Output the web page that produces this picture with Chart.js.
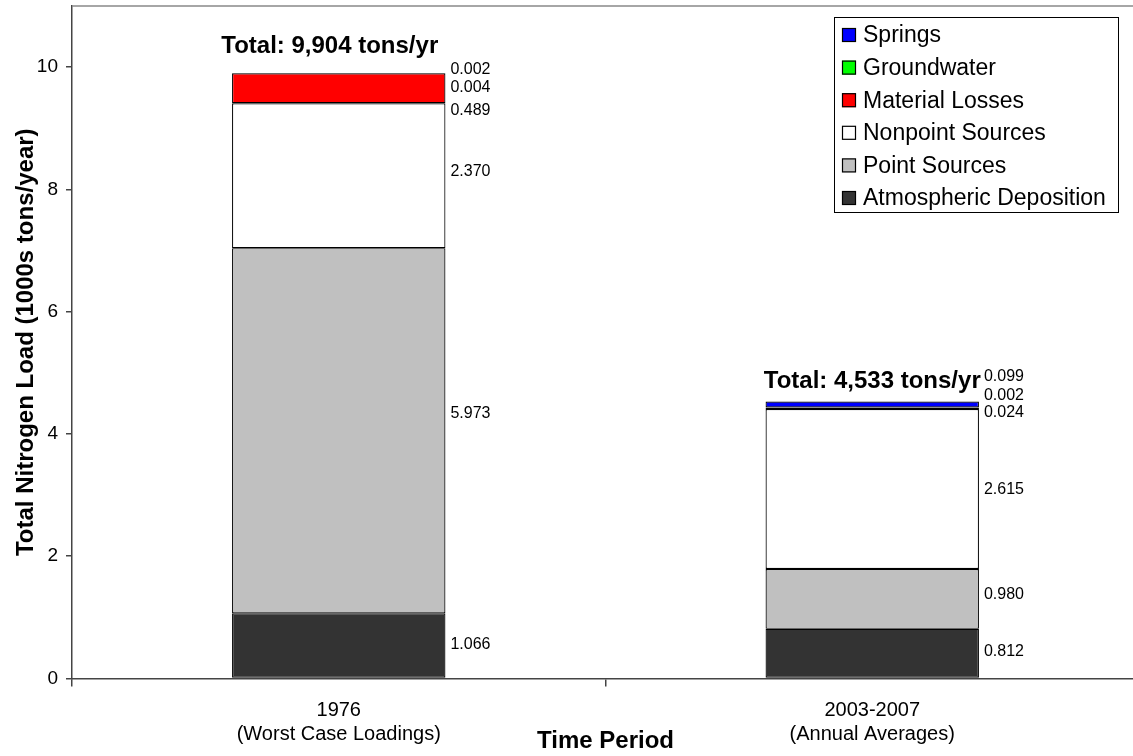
<!DOCTYPE html>
<html>
<head>
<meta charset="utf-8">
<title>Total Nitrogen Load</title>
<script src="https://cdn.jsdelivr.net/npm/chart.js@4.4.1/dist/chart.umd.min.js"></script>
<style>
  html, body { margin: 0; padding: 0; background: #fff; overflow: hidden; }
  /* plot runs a few px past the right edge of the window */
  #wrap { width: 1139px; height: 756px; position: relative; }
</style>
</head>
<body>
<div id="wrap"><canvas id="chart-nitrogen"></canvas></div>
<script>
/* ── Data (1000s tons/year) ─────────────────────────────────── */
const periods        = [['1976', '(Worst Case Loadings)'], ['2003-2007', '(Annual Averages)']];
const atmospheric    = [1.066, 0.812];
const pointSources   = [5.973, 0.980];
const nonpoint       = [2.370, 2.615];
const materialLosses = [0.489, 0.024];
const groundwater    = [0.004, 0.002];
const springs        = [0.002, 0.099];
const totalTons      = [9904, 4533];

const FONT = "'Liberation Sans', Arial, Helvetica, sans-serif";

// label nudges (px) per bar, bottom segment first – keeps the small ones apart
const labelNudge = [
  [-1, -17, -4, 22, 14, -3],
  [-2,  -4,  1,  4, -12, -28],
];
const totalLift  = [27, 20];
const totalShift = [-9, 0];

/* ── Plugins ────────────────────────────────────────────────── */
const topBorder = {
  id: 'topBorder',
  afterDraw(chart) {
    const { ctx, chartArea: a } = chart;
    ctx.save();
    ctx.strokeStyle = '#888';
    ctx.lineWidth = 1.5;
    ctx.beginPath();
    ctx.moveTo(a.left, a.top);
    ctx.lineTo(a.right, a.top);
    ctx.stroke();
    ctx.restore();
  }
};

const segmentLabels = {
  id: 'segmentLabels',
  afterDatasetsDraw(chart) {
    const { ctx } = chart;
    ctx.save();
    ctx.fillStyle = '#000';
    ctx.textAlign = 'left';
    ctx.textBaseline = 'middle';
    ctx.font = '16px ' + FONT;
    chart.data.datasets.forEach((ds, i) => {
      const meta = chart.getDatasetMeta(i);
      meta.data.forEach((bar, j) => {
        const p = bar.getProps(['x', 'y', 'base', 'width'], true);
        const cy = (p.y + p.base) / 2 + labelNudge[j][i];
        ctx.fillText(ds.data[j].toFixed(3), p.x + p.width / 2 + 5, cy);
      });
    });

    // totals above each stack
    const last = chart.getDatasetMeta(chart.data.datasets.length - 1);
    ctx.font = 'bold 24px ' + FONT;
    ctx.textAlign = 'center';
    last.data.forEach((bar, j) => {
      const p = bar.getProps(['x', 'y'], true);
      const txt = 'Total: ' + totalTons[j].toLocaleString('en-US') + ' tons/yr';
      ctx.fillText(txt, p.x + totalShift[j], p.y - totalLift[j]);
    });
    ctx.restore();
  }
};

const boxLegend = {
  id: 'boxLegend',
  afterDraw(chart) {
    const { ctx } = chart;
    const items = chart.data.datasets.slice().reverse();
    ctx.save();
    ctx.fillStyle = '#fff';
    ctx.fillRect(834, 17, 285, 196);
    ctx.strokeStyle = '#000';
    ctx.lineWidth = 1;
    ctx.strokeRect(834.5, 17.5, 284, 195);
    ctx.font = '23px ' + FONT;
    ctx.textAlign = 'left';
    ctx.textBaseline = 'middle';
    items.forEach((ds, k) => {
      const cy = 35 + k * 32.6;
      ctx.fillStyle = ds.backgroundColor;
      ctx.fillRect(842, cy - 7, 14, 14);
      ctx.strokeStyle = '#000';
      ctx.lineWidth = 1.2;
      ctx.strokeRect(842.5, cy - 6.5, 13, 13);
      ctx.fillStyle = '#000';
      ctx.fillText(ds.label, 863, cy + 1);
    });
    ctx.restore();
  }
};

/* ── Chart ──────────────────────────────────────────────────── */
function seg(label, data, color) {
  return {
    label, data,
    backgroundColor: color,
    borderColor: '#000',
    borderWidth: 1.2,
    borderSkipped: false,
    barPercentage: 0.4,
    categoryPercentage: 1,
  };
}

new Chart(document.getElementById('chart-nitrogen'), {
  type: 'bar',
  data: {
    labels: periods,
    datasets: [
      seg('Atmospheric Deposition', atmospheric, '#333333'),
      seg('Point Sources', pointSources, '#c0c0c0'),
      seg('Nonpoint Sources', nonpoint, '#ffffff'),
      seg('Material Losses', materialLosses, '#ff0000'),
      seg('Groundwater', groundwater, '#00ff00'),
      seg('Springs', springs, '#0000ff'),
    ]
  },
  plugins: [topBorder, segmentLabels, boxLegend],
  options: {
    responsive: true,
    maintainAspectRatio: false,
    animation: false,
    layout: { padding: { top: 6, right: 0, bottom: 0, left: 0 } },
    plugins: {
      legend: { display: false },
      tooltip: { enabled: false },
    },
    scales: {
      x: {
        stacked: true,
        afterFit: s => { s.height = 77.5; s.paddingLeft = 0; s.paddingRight = 0; },
        grid: { offset: true, drawOnChartArea: false, tickLength: 8, color: '#444', lineWidth: 1.5 },
        border: { color: '#444', width: 1.5 },
        ticks: { color: '#000', font: { family: FONT, size: 20 }, padding: 12, maxRotation: 0 },
        title: {
          display: true, text: 'Time Period', color: '#000',
          font: { family: FONT, size: 24, weight: 'bold' },
          padding: { top: 0, bottom: 0 },
        },
      },
      y: {
        stacked: true,
        min: 0, max: 11,
        afterFit: s => { s.width = 72; s.paddingTop = 0; s.paddingBottom = 0; },
        afterBuildTicks: s => { s.ticks = s.ticks.filter(t => t.value % 2 === 0); },
        grid: { drawOnChartArea: false, tickLength: 6, color: '#444', lineWidth: 1.5 },
        border: { color: '#444', width: 1.5 },
        ticks: { stepSize: 1, color: '#000', font: { family: FONT, size: 19 }, padding: 8 },
        title: {
          display: true, text: 'Total Nitrogen Load (1000s tons/year)', color: '#000',
          font: { family: FONT, size: 24, weight: 'bold' },
          padding: { top: 12, bottom: 0 },
        },
      }
    }
  }
});
</script>
</body>
</html>
